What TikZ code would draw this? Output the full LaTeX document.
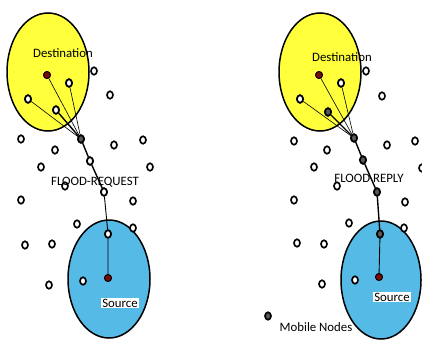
\documentclass[tikz,border=0pt]{standalone}
\usepackage{fontspec}
\setmainfont{Carlito}
\usetikzlibrary{shapes.geometric}
\definecolor{zoneyellow}{RGB}{255,255,60}
\definecolor{zoneblue}{RGB}{85,187,230}
\definecolor{endred}{RGB}{120,10,10}
\definecolor{relaygrey}{RGB}{90,90,90}
\tikzset{
  zoneA/.style={draw=black, line width=1.5pt, fill=zoneyellow},
  zoneB/.style={draw=black, line width=1.5pt, fill=zoneblue},
  mob/.style={ellipse, draw=black, line width=1.6pt, fill=white, inner sep=0pt, minimum width=6pt, minimum height=7.5pt},
  mobg/.style={mob, fill=relaygrey},
  endpt/.style={circle, draw=black, line width=0.8pt, fill=endred, inner sep=0pt, minimum size=7pt},
  lnk/.style={line width=0.6pt},
  hop/.style={line width=1.4pt},
  lbl/.style={font=\fontsize{12.8}{14}\selectfont, inner sep=1pt},
  lblw/.style={lbl, fill=white}
}
\begin{document}
\begin{tikzpicture}[x=1pt,y=-1pt]
\useasboundingbox (0,0) rectangle (422,340);
% zones
\draw[zoneA] (48,72) ellipse [x radius=41, y radius=59];
\draw[zoneB] (109,279) ellipse [x radius=41, y radius=59];
\draw[zoneA] (320,72) ellipse [x radius=41, y radius=59];
\draw[zoneB] (381,280) ellipse [x radius=40, y radius=59];

% ---------- left panel nodes ----------
\node[endpt] (ld) at (47,75) {};
\node[mob] (lY1) at (69,83) {};
\node[mob] (lY2) at (28,99) {};
\node[mob] (lY3) at (56,110) {};
\node[mobg] (lr1) at (81,139) {};
\node[mob] (lr2) at (90,161) {};
\node[mob] (lr3) at (104,192) {};
\node[mob] (lr4) at (108,234) {};
\node[endpt] (ls) at (108,278) {};
\node[mob] (lA) at (94,71) {};
\node[mob] (lB) at (110,95) {};
\node[mob] (lC) at (21,139) {};
\node[mob] (lD) at (55,150) {};
\node[mob] (lE) at (114,145) {};
\node[mob] (lF) at (143,140) {};
\node[mob] (lG) at (41,167) {};
\node[mob] (lH) at (150,167) {};
\node[mob] (lI) at (65,186) {};
\node[mob] (lJ) at (21,200) {};
\node[mob] (lK) at (133,201) {};
\node[mob] (lL) at (77,224) {};
\node[mob] (lM) at (133,228) {};
\node[mob] (lN) at (25,245) {};
\node[mob] (lO) at (52,244) {};
\node[mob] (lP) at (49,285) {};
\node[mob] (lQ) at (83,281) {};

% ---------- right panel nodes ----------
\node[endpt] (rd) at (319,75) {};
\node[mob] (rY1) at (341,83) {};
\node[mob] (rY2) at (300,99) {};
\node[mobg] (rY3) at (328,112) {};
\node[mobg] (rr1) at (354,138) {};
\node[mobg] (rr2) at (363,160) {};
\node[mobg] (rr3) at (377,192) {};
\node[mobg] (rr4) at (380,234) {};
\node[endpt] (rs) at (379,277) {};
\node[mob] (rA) at (366,71) {};
\node[mob] (rB) at (382,96) {};
\node[mob] (rC) at (294,141) {};
\node[mob] (rD) at (327,150) {};
\node[mob] (rE) at (387,145) {};
\node[mob] (rF) at (415,141) {};
\node[mob] (rG) at (314,167) {};
\node[mob] (rH) at (422,168) {};
\node[mob] (rI) at (337,186) {};
\node[mob] (rJ) at (294,200) {};
\node[mob] (rK) at (405,202) {};
\node[mob] (rL) at (349,223) {};
\node[mob] (rM) at (404,228) {};
\node[mob] (rN) at (297,243) {};
\node[mob] (rO) at (324,244) {};
\node[mob] (rP) at (322,284) {};
\node[mob] (rQ) at (355,280) {};
\node[mobg] (leg) at (268,316) {};

% ---------- links ----------
\draw[lnk] (lr1) -- (ld);
\draw[lnk] (lr1) -- (lY1);
\draw[lnk] (lr1) -- (lY2);
\draw[hop] (lr1) -- (lY3);
\draw[hop] (lr1) -- (lr2) -- (lr3);
\draw[lnk, line width=0.9pt] (lr3) -- (lr4) -- (ls);

\draw[lnk] (rr1) -- (rd);
\draw[lnk] (rr1) -- (rY1);
\draw[lnk] (rr1) -- (rY2);
\draw[hop] (rr1) -- (rY3);
\draw[hop] (rr1) -- (rr2) -- (rr3) -- (rr4);
\draw[lnk, line width=0.9pt] (rr4) -- (rs);

% redraw nodes on top of links
\foreach \n/\s in {ld/endpt, lY1/mob, lY2/mob, lY3/mob, lr1/mobg, lr2/mob, lr3/mob, lr4/mob, ls/endpt,
                   rd/endpt, rY1/mob, rY2/mob, rY3/mobg, rr1/mobg, rr2/mobg, rr3/mobg, rr4/mobg, rs/endpt}
  \node[\s] at (\n.center) {};

% ---------- labels ----------
\node[lbl] (tdl) at (63,53) {Destination};
\node[lbl] (tdr) at (342,57) {Destination};
\node[lbl] (tfq) at (95,182) {FLOOD-REQUEST};
\node[lbl] (tfr) at (369,178) {FLOOD REPLY};
\node[lblw] (tsl) at (120,303) {Source};
\node[lblw] (tsr) at (392,297) {Source};
\node[lbl] (tmn) at (316,327) {Mobile Nodes};
\end{tikzpicture}
\end{document}
